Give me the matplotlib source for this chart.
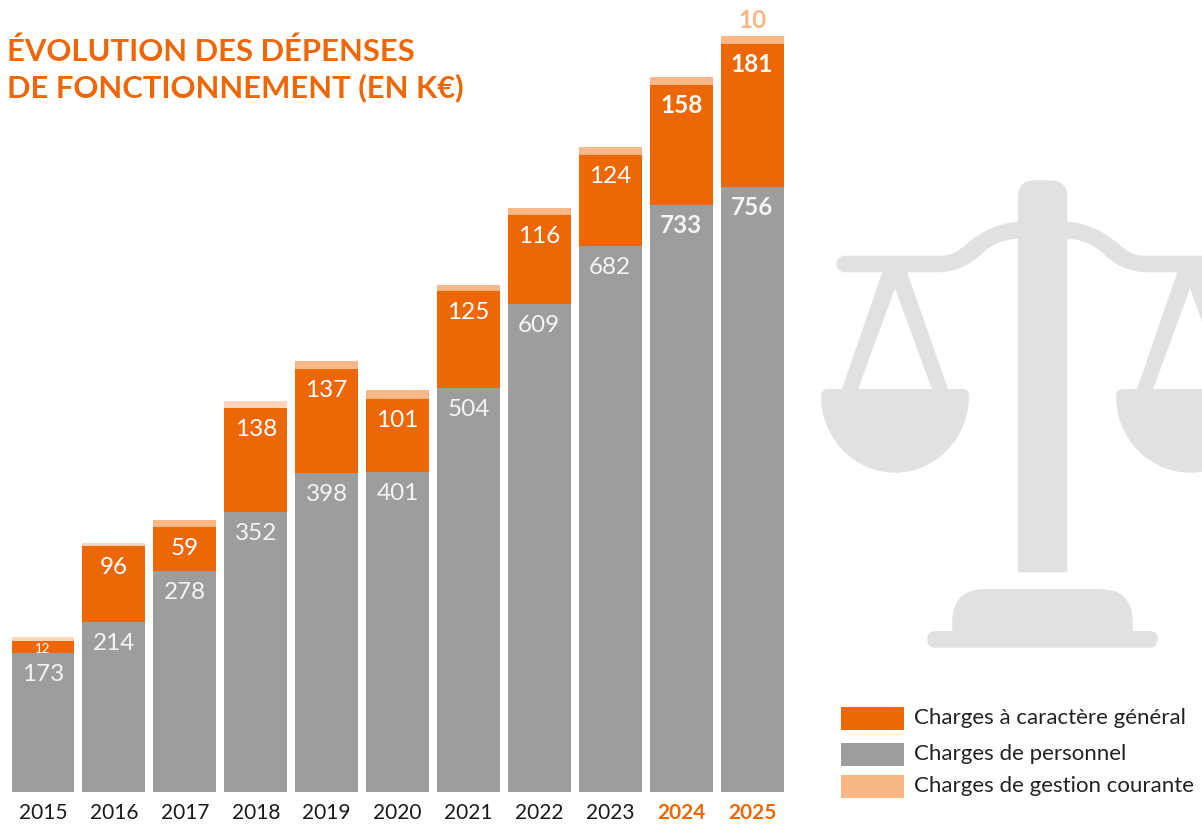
# Imports
import matplotlib
matplotlib.use("Agg")
import numpy as np
import matplotlib.pyplot as plt
from matplotlib.path import Path
from matplotlib.patches import PathPatch, Rectangle, FancyBboxPatch

plt.rcParams['font.family'] = ['Lato', 'DejaVu Sans']

# Data
years = [2015, 2016, 2017, 2018, 2019, 2020, 2021, 2022, 2023, 2024, 2025]
# printed labels do not always agree with the drawn heights, so both are kept
personnel_labels = [173, 214, 278, 352, 398, 401, 504, 609, 682, 733, 756]
personnel_heights = [174, 212, 276, 350, 398, 400, 505, 610, 682, 733, 756]
general_labels = [12, 96, 59, 138, 137, 101, 125, 116, 124, 158, 181]
general_heights = [15, 95, 55, 130, 131, 91, 121, 111, 114, 150, 179]
courante_heights = [5, 4, 9, 9, 10, 11, 8, 9, 10, 10, 10]
courante_label = 10
legend_labels = ["Charges à caractère général", "Charges de personnel", "Charges de gestion courante"]
title_lines = ["ÉVOLUTION DES DÉPENSES", "DE FONCTIONNEMENT (EN K€)"]

ORANGE = "#ED6707"
GREY = "#9D9D9C"
LIGHT = "#F9B686"
PALE = "#FCD4B8"
ICON = "#E1E1E1"
W, H = 1202, 825
PX = 0.72  # points per pixel at dpi 100

fig = plt.figure(figsize=(W / 100, H / 100), dpi=100, facecolor="white")

# Icon and legend swatches live on a pixel-coordinates layer
bg = fig.add_axes([0, 0, 1, 1], zorder=0)
bg.set_xlim(0, W)
bg.set_ylim(H, 0)
bg.axis("off")


def draw_path(segments, color=ICON):
    verts, codes = [], []
    for code, pts in segments:
        verts.extend(pts)
        codes.extend([code] * len(pts))
    bg.add_patch(PathPatch(Path(verts, codes), facecolor=color, edgecolor="none"))


def draw_balance():
    cx = 1042.6
    # beam, both sides
    for s in (-1, 1):
        f = lambda x: cx + s * x
        draw_path([
            (Path.MOVETO, [(f(0), 221.7)]),
            (Path.LINETO, [(f(24.6), 221.7)]),
            (Path.CURVE4, [(f(45), 223), (f(62), 232), (f(76), 244)]),
            (Path.CURVE4, [(f(85), 252), (f(92), 255.7), (f(101), 255.7)]),
            (Path.LINETO, [(f(197), 255.7)]),
            (Path.CURVE4, [(f(209), 255.7), (f(209), 272.3), (f(197), 272.3)]),
            (Path.LINETO, [(f(105), 272.3)]),
            (Path.CURVE4, [(f(84), 272), (f(70), 263), (f(60), 253)]),
            (Path.CURVE4, [(f(50), 244), (f(38), 239), (f(24.6), 239)]),
            (Path.LINETO, [(f(0), 239)]),
            (Path.CLOSEPOLY, [(f(0), 221.7)]),
        ])
    # column
    draw_path([
        (Path.MOVETO, [(1018, 572.3)]),
        (Path.LINETO, [(1018, 197)]),
        (Path.CURVE3, [(1018, 180.3), (1035, 180.3)]),
        (Path.LINETO, [(1050, 180.3)]),
        (Path.CURVE3, [(1067.3, 180.3), (1067.3, 197)]),
        (Path.LINETO, [(1067.3, 572.3)]),
        (Path.CLOSEPOLY, [(1018, 572.3)]),
    ])
    # hanging triangles and pans
    for px in (895, 1190):
        draw_path([
            (Path.MOVETO, [(px - 12.3, 271)]),
            (Path.LINETO, [(px + 11.7, 271)]),
            (Path.LINETO, [(px + 54, 392)]),
            (Path.LINETO, [(px - 54, 392)]),
            (Path.CLOSEPOLY, [(px - 12.3, 271)]),
        ])
        draw_path([
            (Path.MOVETO, [(px, 288.3)]),
            (Path.LINETO, [(px + 37, 389.5)]),
            (Path.LINETO, [(px - 37, 389.5)]),
            (Path.CLOSEPOLY, [(px, 288.3)]),
        ], color="white")
        draw_path([
            (Path.MOVETO, [(px - 67, 389)]),
            (Path.LINETO, [(px + 67, 389)]),
            (Path.CURVE3, [(px + 74, 389), (px + 74, 396)]),
            (Path.CURVE4, [(px + 74, 438), (px + 41, 472.7), (px, 472.7)]),
            (Path.CURVE4, [(px - 41, 472.7), (px - 74, 438), (px - 74, 396)]),
            (Path.CURVE3, [(px - 74, 389), (px - 67, 389)]),
            (Path.CLOSEPOLY, [(px - 67, 389)]),
        ])
    # foot
    bg.add_patch(FancyBboxPatch((927.3, 631), 230.4, 16.7, boxstyle="round,pad=0,rounding_size=8.3",
                                facecolor=ICON, edgecolor="none"))
    draw_path([
        (Path.MOVETO, [(952.3, 634)]),
        (Path.LINETO, [(952.3, 622)]),
        (Path.CURVE3, [(952.3, 589), (985, 589)]),
        (Path.LINETO, [(1100, 589)]),
        (Path.CURVE3, [(1132.7, 589), (1132.7, 622)]),
        (Path.LINETO, [(1132.7, 634)]),
        (Path.CLOSEPOLY, [(952.3, 634)]),
    ])


draw_balance()

# Bars: one category step is 70.9 px, one k€ is 0.8 px
ax = fig.add_axes([0, 33 / H, 1, 792 / H], zorder=1)
ax.patch.set_alpha(0)
ax.set_xlim(-43.0 / 70.9, (W - 43.0) / 70.9)
ax.set_ylim(0, 792 / 0.8003)
for spine in ax.spines.values():
    spine.set_visible(False)
ax.set_yticks([])

x = np.arange(len(years))
bar_w = 63 / 70.9
personnel_arr = np.array(personnel_heights)
general_arr = np.array(general_heights)
courante_arr = np.array(courante_heights)
courante_colors = [PALE if y in (2015, 2016, 2018) else LIGHT for y in years]

ax.bar(x, personnel_arr, width=bar_w, color=GREY)
ax.bar(x, general_arr, width=bar_w, bottom=personnel_arr, color=ORANGE)
ax.bar(x, courante_arr, width=bar_w, bottom=personnel_arr + general_arr, color=courante_colors)

ax.set_xticks(x)
ax.set_xticklabels([str(y) for y in years], fontsize=15, color="#1a1a1a")
ax.tick_params(axis="x", length=0, pad=8)
for lab, y in zip(ax.get_xticklabels(), years):
    if y >= 2024:
        lab.set_color(ORANGE)
        lab.set_fontweight("bold")

# Value labels, placed by baseline below the top of each segment
for i, y in enumerate(years):
    weight = "bold" if y >= 2024 else "normal"
    ax.annotate(str(personnel_labels[i]), (x[i], personnel_heights[i]), xytext=(0, -28 * PX), textcoords="offset points",
                ha="center", va="baseline", color="#F4F4F4", fontsize=17.5, fontweight=weight)
    top = personnel_heights[i] + general_heights[i]
    if i == 0:
        ax.annotate(str(general_labels[i]), (x[i], top), xytext=(0, -12 * PX), textcoords="offset points",
                    ha="center", va="baseline", color="white", fontsize=9.5)
    else:
        ax.annotate(str(general_labels[i]), (x[i], top), xytext=(0, -28 * PX), textcoords="offset points",
                    ha="center", va="baseline", color="white", fontsize=17.5, fontweight=weight)
ax.annotate(str(courante_label), (x[-1], personnel_heights[-1] + general_heights[-1] + courante_heights[-1]),
            xytext=(0, 8 * PX), textcoords="offset points", ha="center", va="baseline",
            color=LIGHT, fontsize=17.5, fontweight="bold")

# Title
for line, base in zip(title_lines, (60.7, 97.3)):
    fig.text(7 / W, 1 - base / H, line, color=ORANGE, fontsize=22.3, fontweight="bold", va="baseline", ha="left")

# Legend
swatch_tops = [707, 743, 775]
for label, color, top in zip(legend_labels, [ORANGE, GREY, LIGHT], swatch_tops):
    bg.add_patch(Rectangle((841, top), 63, 22.7, facecolor=color, edgecolor="none"))
    bg.text(914, top + 17.5, label, color="#222222", fontsize=16, va="baseline", ha="left")

fig.savefig("out.png", dpi=100)
